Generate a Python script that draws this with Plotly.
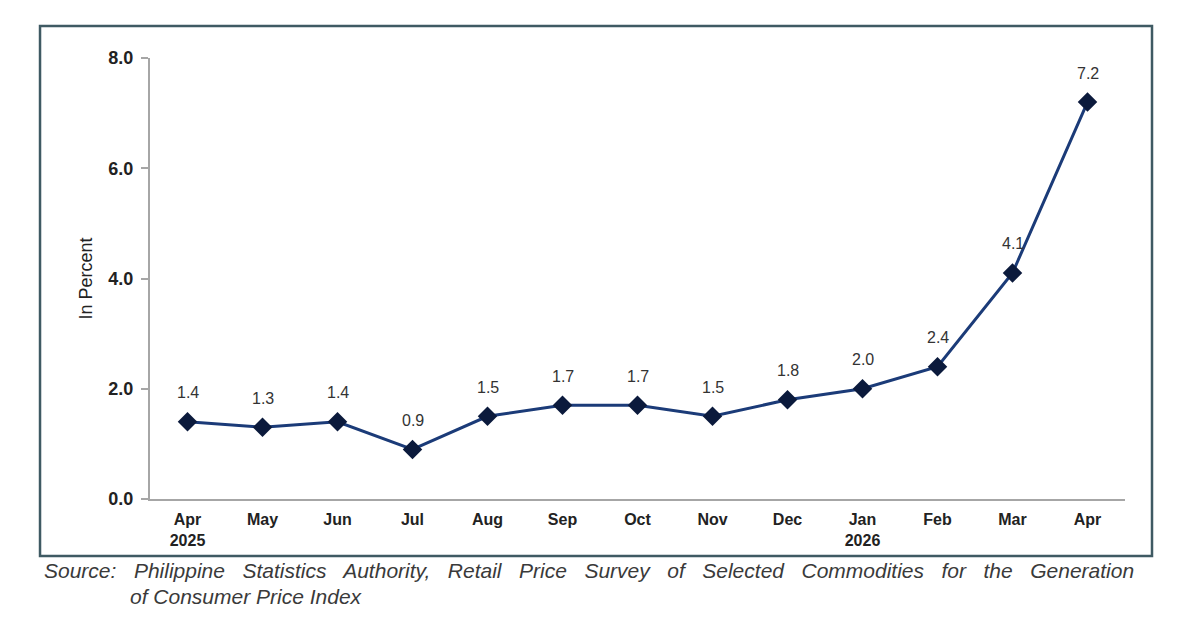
import plotly.graph_objects as go

# Datos: inflación mensual (en porcentaje)
months = ["Apr<br>2025", "May", "Jun", "Jul", "Aug", "Sep", "Oct",
          "Nov", "Dec", "Jan<br>2026", "Feb", "Mar", "Apr"]
values = [1.4, 1.3, 1.4, 0.9, 1.5, 1.7, 1.7, 1.5, 1.8, 2.0, 2.4, 4.1, 7.2]
y_ticks = [0, 2, 4, 6, 8]

FONT = "Liberation Sans, Arial, sans-serif"
idx = list(range(len(months)))

fig = go.Figure()

fig.add_trace(
    go.Scatter(
        x=idx,
        y=values,
        mode="lines+markers",
        line=dict(color="#1b3b78", width=3),
        marker=dict(symbol="diamond", size=15, color="#0b1a3c",
                    line=dict(color="#0b1a3c", width=0)),
        showlegend=False,
        hoverinfo="skip",
    )
)

# Etiquetas de valor sobre cada punto
for i, v in zip(idx, values):
    fig.add_annotation(
        x=i, y=v, text=f"{v:.1f}", showarrow=False, yshift=29,
        font=dict(family=FONT, size=16, color="#333333"),
    )

# Marco exterior del gráfico
fig.add_shape(
    type="rect", xref="paper", yref="paper",
    x0=-0.1128, x1=1.0277, y0=-0.1293, y1=1.0726,
    line=dict(color="#3f5a63", width=2.5), fillcolor="rgba(0,0,0,0)",
)

# Fuente (texto justificado a mano con espacios duros)
sep = "\u00a0\u00a0 "
line1 = sep.join(["Source:", "Philippine", "Statistics", "Authority,", "Retail",
                  "Price", "Survey", "of", "Selected", "Commodities", "for",
                  "the", "Generation"])
fig.add_annotation(
    xref="paper", yref="paper", x=-0.1108, y=-0.163,
    xanchor="left", yanchor="middle", showarrow=False,
    text=line1,
    font=dict(family=FONT, size=21, color="#3a3a3a", style="italic"),
)
fig.add_annotation(
    xref="paper", yref="paper", x=-0.0226, y=-0.220,
    xanchor="left", yanchor="middle", showarrow=False,
    text="of Consumer Price Index",
    font=dict(family=FONT, size=21, color="#3a3a3a", style="italic"),
)

fig.update_xaxes(
    tickmode="array", tickvals=idx, ticktext=months,
    range=[-0.5, 12.5], showline=True, linecolor="#a6a6a6", linewidth=2,
    ticks="", showgrid=False, zeroline=False, ticklabelstandoff=5,
    tickfont=dict(family=FONT, size=16, color="#222222", weight="bold"),
)
fig.update_yaxes(
    tickmode="array", tickvals=y_ticks, tickformat=".1f",
    range=[0, 8], showline=True, linecolor="#a6a6a6", linewidth=2,
    ticks="outside", ticklen=7, tickcolor="#a6a6a6", tickwidth=1.5,
    ticklabelstandoff=4,
    showgrid=False, zeroline=False,
    tickfont=dict(family=FONT, size=18, color="#222222", weight="bold"),
    title=dict(text="In Percent", standoff=11,
               font=dict(family=FONT, size=18, color="#222222")),
)

# La página añade 8 px de margen, así que la figura se ajusta
fig.update_layout(
    width=1184, height=614,
    margin=dict(l=142, r=67, t=50, b=123),
    paper_bgcolor="white", plot_bgcolor="white",
)

fig.write_html("out.html")
